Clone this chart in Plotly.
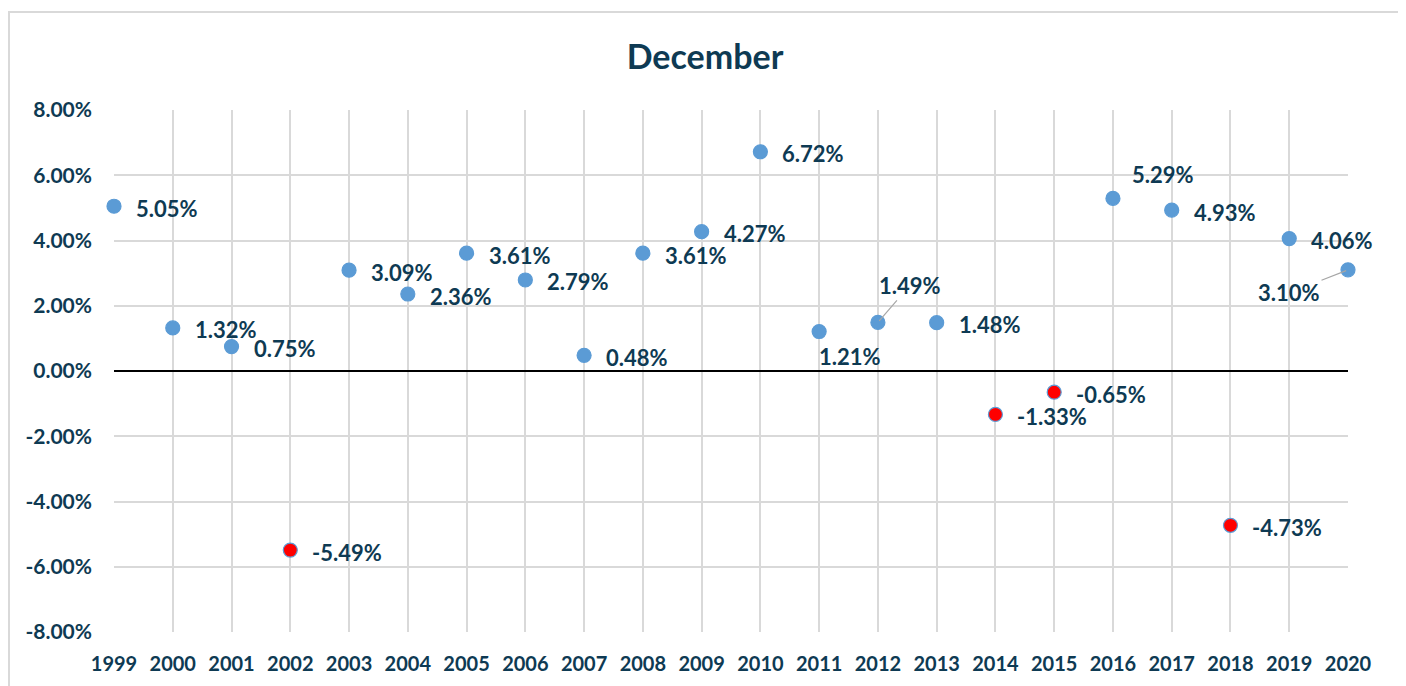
import plotly.graph_objects as go

years = [1999, 2000, 2001, 2002, 2003, 2004, 2005, 2006, 2007, 2008, 2009,
         2010, 2011, 2012, 2013, 2014, 2015, 2016, 2017, 2018, 2019, 2020]
returns_pct = [5.05, 1.32, 0.75, -5.49, 3.09, 2.36, 3.61, 2.79, 0.48, 3.61, 4.27,
               6.72, 1.21, 1.49, 1.48, -1.33, -0.65, 5.29, 4.93, -4.73, 4.06, 3.10]
y_tick_vals = [-8, -6, -4, -2, 0, 2, 4, 6, 8]
y_tick_text = ["-8.00%", "-6.00%", "-4.00%", "-2.00%", "0.00%", "2.00%", "4.00%", "6.00%", "8.00%"]

TXT = "#0e3a53"
BLUE = "#5b9bd5"
FONT = "Lato"

W, H = 1398, 678
PL, PT, PW, PH = 106, 102, 1234, 522

vals = [v / 100 for v in returns_pct]
fills = ["#ff0000" if v < 0 else BLUE for v in returns_pct]

fig = go.Figure()
fig.add_trace(go.Scatter(
    x=years, y=vals, mode="markers",
    marker=dict(size=14, color=fills, line=dict(color=BLUE, width=1.2)),
    cliponaxis=False, showlegend=False, hoverinfo="skip",
))

annotations = []
for yr, v, p in zip(years, vals, returns_pct):
    label = f"<b>{p:.2f}%</b>"
    base = dict(x=yr, y=v, text=label, font=dict(family=FONT, size=22, color=TXT),
                xref="x", yref="y")
    if yr == 2011:
        annotations.append(dict(**base, showarrow=False, xanchor="center", yanchor="middle",
                                xshift=31, yshift=-25))
    elif yr == 2012:
        annotations.append(dict(**base, showarrow=True, arrowhead=0, arrowwidth=1.2,
                                arrowcolor="#a6a6a6", ax=32, ay=-37, standoff=2,
                                xanchor="center", yanchor="middle"))
    elif yr == 2016:
        annotations.append(dict(**base, showarrow=False, xanchor="left", yanchor="middle",
                                xshift=17, yshift=24))
    elif yr == 2020:
        annotations.append(dict(**base, showarrow=True, arrowhead=0, arrowwidth=1.2,
                                arrowcolor="#a6a6a6", ax=-59, ay=23, standoff=2,
                                xanchor="center", yanchor="middle"))
    else:
        annotations.append(dict(**base, showarrow=False, xanchor="left", yanchor="middle",
                                xshift=20, yshift=-2))

fig.update_layout(
    width=W, height=H,
    margin=dict(l=PL, r=W - PL - PW, t=PT, b=H - PT - PH),
    paper_bgcolor="white", plot_bgcolor="white",
    title=dict(text="<b>December</b>", x=697 / W, xref="container", xanchor="center",
               y=1 - 49 / H, yref="container", yanchor="middle",
               font=dict(family=FONT, size=34, color=TXT)),
    xaxis=dict(range=[1999, 2020], tickmode="array", tickvals=years,
               ticktext=[f"<b>{y}</b>" for y in years],
               showgrid=True, gridcolor="#d9d9d9", gridwidth=1.5,
               zeroline=False, showline=False, ticks="", ticklabelstandoff=18,
               tickfont=dict(family=FONT, size=20, color=TXT)),
    yaxis=dict(range=[-0.08, 0.08], tickmode="array",
               tickvals=[t / 100 for t in y_tick_vals],
               ticktext=[f"<b>{t}</b>" for t in y_tick_text],
               showgrid=True, gridcolor="#d9d9d9", gridwidth=1.5,
               zeroline=True, zerolinecolor="black", zerolinewidth=1.5,
               showline=False, ticks="", ticklabelstandoff=21,
               tickfont=dict(family=FONT, size=21, color=TXT)),
    annotations=annotations,
    shapes=[dict(type="rect", xref="paper", yref="paper",
                 x0=(1 - PL) / PW, x1=(1392 - PL) / PW,
                 y0=(PT + PH - (H + 20)) / PH, y1=(PT + PH - 4) / PH,
                 line=dict(color="#d9d9d9", width=2), fillcolor="rgba(0,0,0,0)",
                 layer="below")],
)

fig.write_html("out.html")
